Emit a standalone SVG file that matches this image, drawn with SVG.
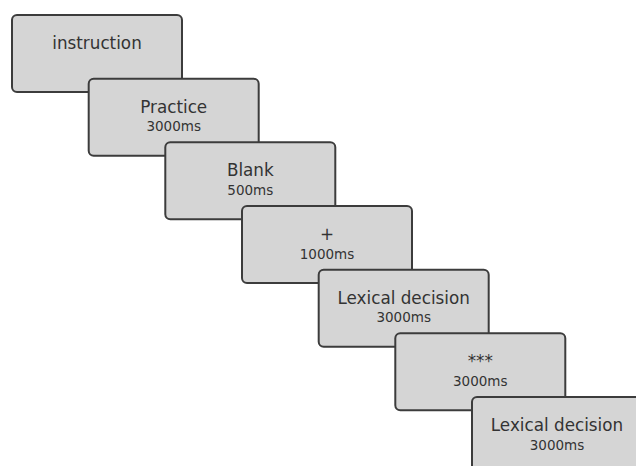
<svg xmlns="http://www.w3.org/2000/svg" width="636" height="466" viewBox="0 0 636 466">
<style>
.box{fill:#d5d5d5;stroke:#3c3c3c;stroke-width:2}
.t{font-family:"DejaVu Sans",sans-serif;font-size:16.8px;fill:#333;text-anchor:middle}
.s{font-family:"DejaVu Sans",sans-serif;font-size:13.5px;fill:#333;text-anchor:middle}
</style>
<rect width="636" height="466" fill="#fff"/>
<g id="n1"><rect class="box" x="12" y="15" width="170" height="77" rx="5"/><text class="t" x="97" y="49">instruction</text></g>
<g id="n2"><rect class="box" x="88.7" y="78.7" width="170" height="77" rx="5"/><text class="t" x="173.7" y="112.7">Practice</text><text class="s" x="173.7" y="131.2">3000ms</text></g>
<g id="n3"><rect class="box" x="165.3" y="142.3" width="170" height="77" rx="5"/><text class="t" x="250.3" y="176.3">Blank</text><text class="s" x="250.3" y="194.8">500ms</text></g>
<g id="n4"><rect class="box" x="242" y="206" width="170" height="77" rx="5"/><text class="t" x="327" y="240">+</text><text class="s" x="327" y="258.5">1000ms</text></g>
<g id="n5"><rect class="box" x="318.7" y="269.7" width="170" height="77" rx="5"/><text class="t" x="403.7" y="303.7">Lexical decision</text><text class="s" x="403.7" y="322.2">3000ms</text></g>
<g id="n6"><rect class="box" x="395.3" y="333.3" width="170" height="77" rx="5"/><text class="t" x="480.3" y="367.3">***</text><text class="s" x="480.3" y="385.8">3000ms</text></g>
<g id="n7"><rect class="box" x="472" y="397" width="170" height="77" rx="5"/><text class="t" x="557" y="431">Lexical decision</text><text class="s" x="557" y="449.5">3000ms</text></g>
</svg>
